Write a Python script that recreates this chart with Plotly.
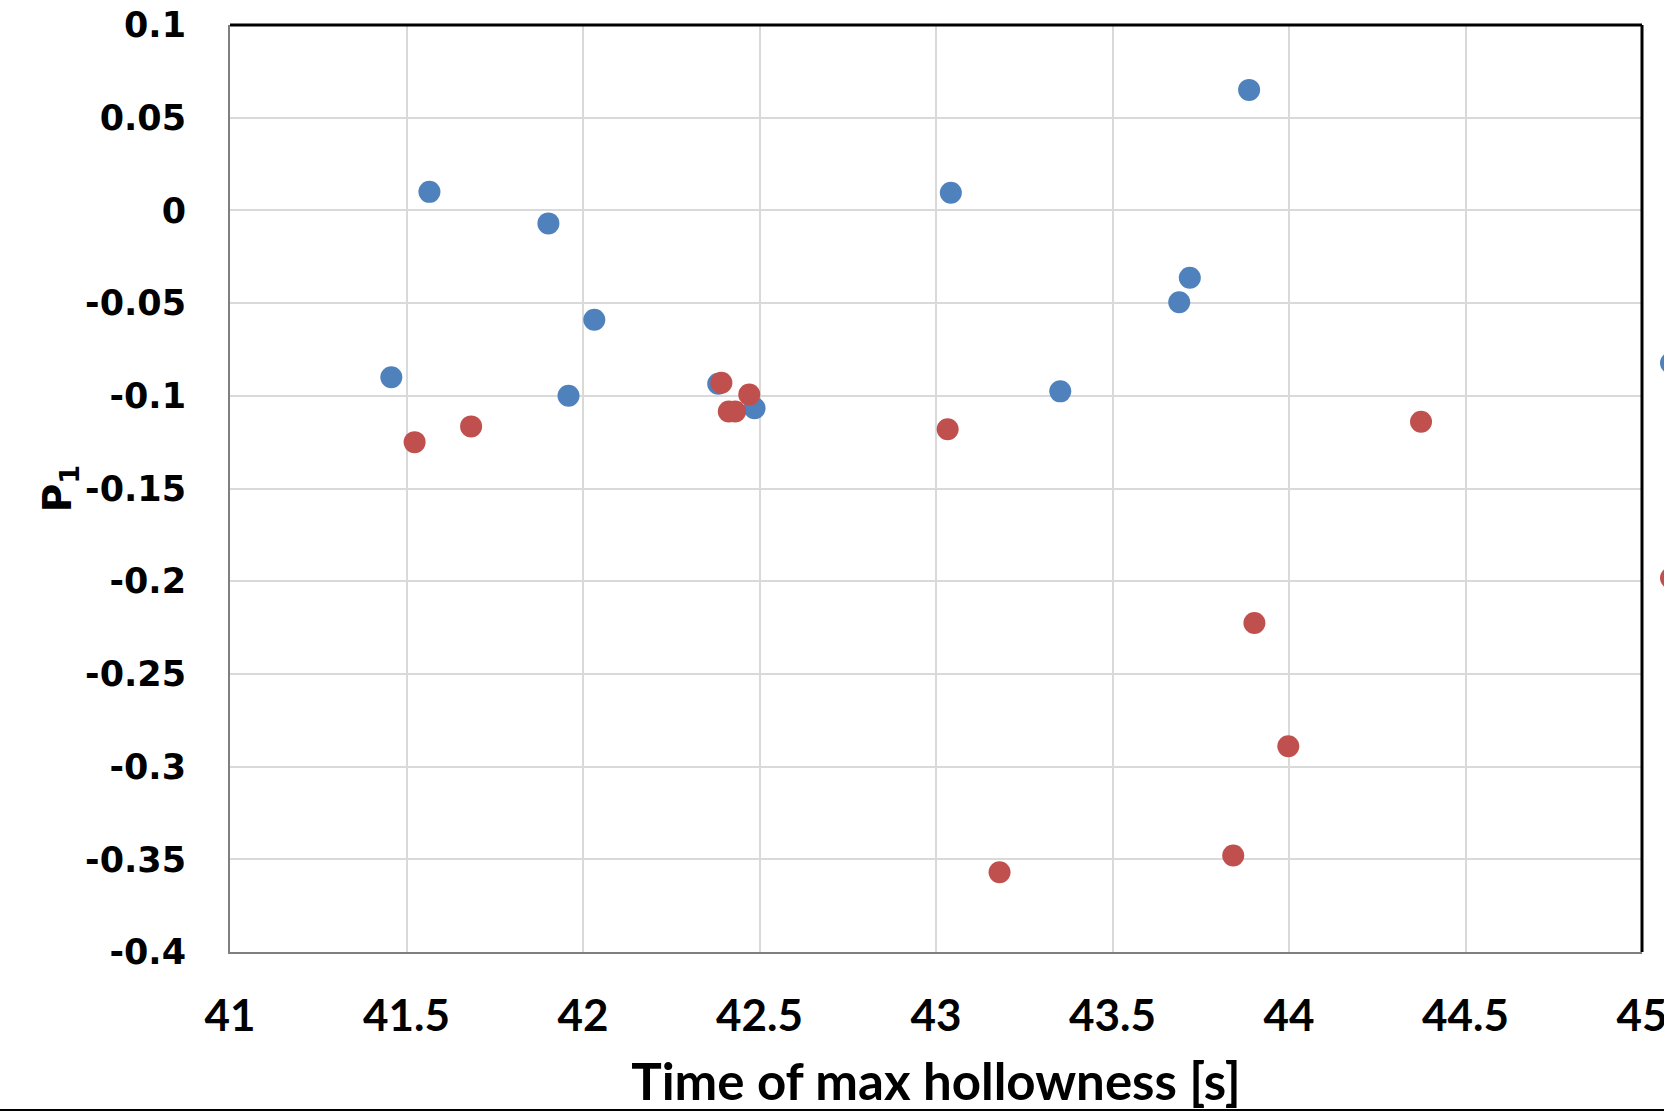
import plotly.graph_objects as go

# Blue series
blue_x = [41.457, 41.565, 41.902, 41.959, 42.032, 42.383, 42.486, 43.042, 43.352, 43.689, 43.719, 43.887]
blue_y = [-0.090, 0.010, -0.007, -0.100, -0.059, -0.0935, -0.1067, 0.0095, -0.0976, -0.0495, -0.0363, 0.065]

# Red series
red_x = [41.523, 41.683, 42.392, 42.413, 42.431, 42.471, 43.033, 43.180, 43.842, 43.902, 43.998, 44.374]
red_y = [-0.125, -0.1165, -0.093, -0.1085, -0.1085, -0.0993, -0.118, -0.357, -0.348, -0.2225, -0.289, -0.114]

x_ticks = [41, 41.5, 42, 42.5, 43, 43.5, 44, 44.5, 45]
x_ticklabels = ["41", "41.5", "42", "42.5", "43", "43.5", "44", "44.5", "45"]
y_ticks = [0.1, 0.05, 0, -0.05, -0.1, -0.15, -0.2, -0.25, -0.3, -0.35, -0.4]
y_ticklabels = ["0.1", "0.05", "0", "-0.05", "-0.1", "-0.15", "-0.2", "-0.25", "-0.3", "-0.35", "-0.4"]

BLUE = "#4F81BD"
RED = "#C0504D"

fig = go.Figure()
fig.add_trace(go.Scatter(x=blue_x, y=blue_y, mode="markers",
                         marker=dict(color=BLUE, size=22), showlegend=False))
fig.add_trace(go.Scatter(x=red_x, y=red_y, mode="markers",
                         marker=dict(color=RED, size=22), showlegend=False))

W, H = 1664, 1111
L, R, T, B = 230, 22, 25, 159

XFONT = "Lato, Open Sans, sans-serif"
YFONT = "DejaVu Sans, Verdana, sans-serif"

fig.update_layout(
    width=W, height=H,
    margin=dict(l=L, r=R, t=T, b=B, pad=0, autoexpand=False),
    paper_bgcolor="white", plot_bgcolor="white",
    xaxis=dict(range=[41, 45], tickvals=x_ticks,
               ticktext=[f"<b>{t}</b>" for t in x_ticklabels],
               showgrid=True, gridcolor="#D9D9D9", gridwidth=1.5,
               showline=True, linecolor="#7F7F7F", linewidth=2,
               zeroline=False, ticks="", ticklabelstandoff=24,
               ticklabeloverflow="allow", automargin=False,
               tickfont=dict(family=XFONT, size=44, color="black"),
               title=dict(text="<b>Time of max hollowness [s]</b>",
                          font=dict(family=XFONT, size=51, color="black"),
                          standoff=36)),
    yaxis=dict(range=[-0.4, 0.1], tickvals=y_ticks,
               ticktext=[f"<b>{t}</b>" for t in y_ticklabels],
               showgrid=True, gridcolor="#D9D9D9", gridwidth=1.5,
               showline=True, linecolor="#7F7F7F", linewidth=2,
               zeroline=False, ticks="", ticklabelstandoff=35,
               ticklabeloverflow="allow", automargin=False,
               tickfont=dict(family=YFONT, size=35, color="black"),
               title=dict(text="<b>P<sub>1</sub></b>",
                          font=dict(family=YFONT, size=39, color="black"),
                          standoff=0)),
    showlegend=False,
)

# black top and right frame lines
fig.add_shape(type="line", xref="paper", yref="paper", x0=0, x1=1, y0=1, y1=1,
              line=dict(color="black", width=3))
fig.add_shape(type="line", xref="paper", yref="paper", x0=1, x1=1, y0=0, y1=1,
              line=dict(color="black", width=3))
# cropped legend swatches at the right edge
pw, ph = W - L - R, H - T - B
cx = (1671 - L) / pw
for cy_px, col in [(363, BLUE), (578, RED)]:
    cy = (H - B - cy_px) / ph
    fig.add_shape(type="circle", xref="paper", yref="paper",
                  x0=cx - 11 / pw, x1=cx + 11 / pw, y0=cy - 11 / ph, y1=cy + 11 / ph,
                  fillcolor=col, line=dict(width=0))
# bottom border line of the image
fig.add_shape(type="line", xref="paper", yref="paper", x0=-L / pw, x1=(W - L) / pw,
              y0=-(B - 1) / ph, y1=-(B - 1) / ph, line=dict(color="black", width=2))

fig.write_html("out.html")
